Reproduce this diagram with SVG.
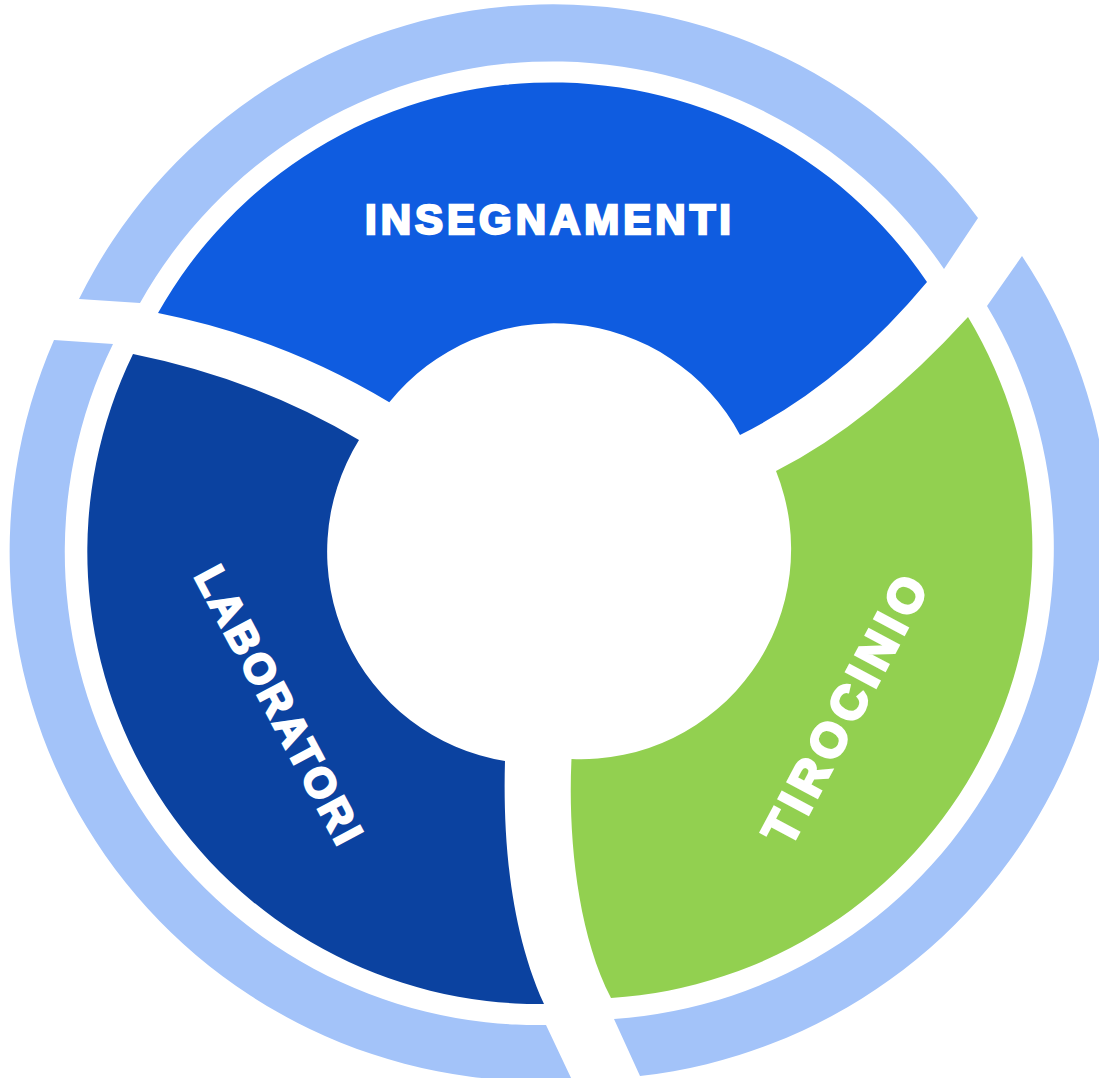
<svg xmlns="http://www.w3.org/2000/svg" width="1099" height="1078" viewBox="0 0 1099 1078">
  <style>
    .ring { fill: #a3c3f9; }
    .lbl { font-family: "Liberation Sans", Arial, sans-serif; font-weight: bold; font-size: 42px; fill: #ffffff; stroke: #ffffff; stroke-width: 2.5px; stroke-linejoin: miter; letter-spacing: 3.5px; text-anchor: middle; }
  </style>
  <rect x="0" y="0" width="1099" height="1078" fill="#ffffff"/>
  <g id="insegnamenti">
    <path class="ring" d="M79,299 A529,529 0 0 1 978,218 L944,269 A473,473 0 0 0 140,303 Z"/>
    <path fill="#0f5ce0" d="M158,313 A452,452 0 0 1 927,282 Q842,384 740,435 A211,211 0 0 0 389.3,402.3 Q282,337.8 158,313 Z"/>
    <text class="lbl" style="letter-spacing:4px" x="550" y="234">INSEGNAMENTI</text>
  </g>
  <g id="laboratori">
    <path class="ring" d="M113,344 L54,340 A529,529 0 0 0 572,1080 L546,1025 A473,473 0 0 1 113,344 Z"/>
    <path fill="#0b42a0" d="M133,354 Q257,379 359,440 A212,212 0 0 0 505,761 C503,830 508,925 544,1004 A452,452 0 0 1 133,354 Z"/>
    <text class="lbl" transform="translate(280,706) rotate(62)" x="0" y="15">LABORATORI</text>
  </g>
  <g id="tirocinio">
    <path class="ring" d="M987,306 L1022,256 A530,530 0 0 1 640,1076 L614,1019 A472,472 0 0 0 987,306 Z"/>
    <path fill="#92d050" d="M776,471 Q871,423 968,317 A450,450 0 0 1 611,998 C576,930 568,830 571.5,759 A210,210 0 0 0 776,471 Z"/>
    <text class="lbl" style="font-size:48px;letter-spacing:6px;stroke-width:3px" transform="translate(846,707) rotate(-62)" x="0" y="17">TIROCINIO</text>
  </g>
  <g id="connectors"></g>
</svg>
